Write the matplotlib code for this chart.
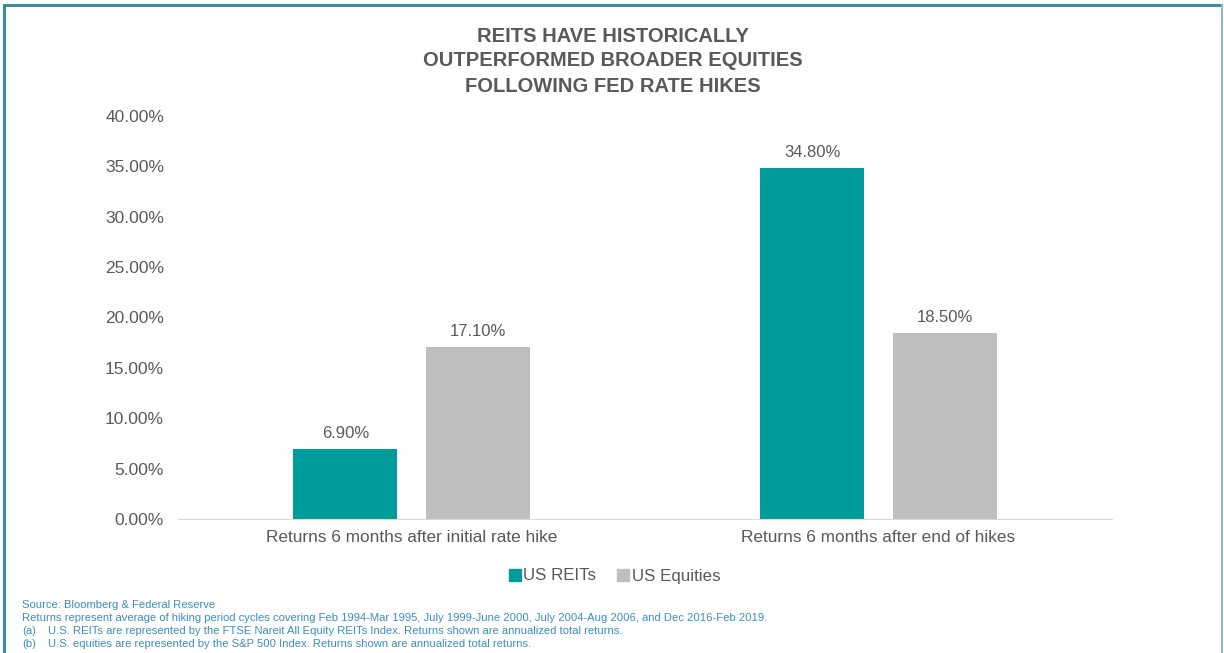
import matplotlib.pyplot as plt
from matplotlib.patches import Rectangle
from matplotlib.lines import Line2D

categories = ["Returns 6 months after initial rate hike", "Returns 6 months after end of hikes"]
reits = [6.90, 34.80]
equities = [17.10, 18.50]
series_names = ["US REITs", "US Equities"]
yticks = [0, 5, 10, 15, 20, 25, 30, 35, 40]

title = "REITS HAVE HISTORICALLY\nOUTPERFORMED BROADER EQUITIES\nFOLLOWING FED RATE HIKES"
notes = [
    "Source: Bloomberg & Federal Reserve",
    "Returns represent average of hiking period cycles covering Feb 1994-Mar 1995, July 1999-June 2000, July 2004-Aug 2006, and Dec 2016-Feb 2019.",
]
notes_ab = [
    ("(a)", "U.S. REITs are represented by the FTSE Nareit All Equity REITs Index. Returns shown are annualized total returns."),
    ("(b)", "U.S. equities are represented by the S&P 500 Index. Returns shown are annualized total returns."),
]

teal = "#009B9B"
grey = "#BFBFBF"
txt = "#595959"
blue = "#3C8DC4"
frame = "#3A8CA6"

plt.rcParams['font.family'] = ['Liberation Sans', 'DejaVu Sans']

fig = plt.figure(figsize=(12.24, 6.53), dpi=100)
W, H = 1224, 653
ax = fig.add_axes([178 / W, 1 - 519 / H, 934 / W, (519 - 116) / H])

x = [0, 1]
bw = 0.223
off = 0.1415
b1 = ax.bar([i - off for i in x], reits, bw, color=teal, label=series_names[0])
b2 = ax.bar([i + off for i in x], equities, bw, color=grey, label=series_names[1])
for bars, vals in [(b1, reits), (b2, equities)]:
    for r, v in zip(bars, vals):
        ax.text(r.get_x() + r.get_width() / 2, v + 0.8, f"{v:.2f}%", ha='center', va='bottom',
                fontsize=12, color=txt)

ax.set_xlim(-0.5, 1.5)
ax.set_ylim(0, 40)
ax.set_yticks(yticks)
ax.set_yticklabels([f"{t:.2f}%" for t in yticks], fontsize=12.5, color=txt)
ax.set_xticks(x)
ax.set_xticklabels(categories, fontsize=12.4, color=txt)
ax.tick_params(axis='both', length=0)
ax.tick_params(axis='y', pad=10)
ax.tick_params(axis='x', pad=8)
for s in ['top', 'right', 'left']:
    ax.spines[s].set_visible(False)
ax.spines['bottom'].set_color('#D9D9D9')

handles = [Line2D([], [], marker='s', linestyle='none', color=teal, markersize=8),
           Line2D([], [], marker='s', linestyle='none', color=grey, markersize=8)]
fig.legend(handles, series_names, loc='center', bbox_to_anchor=(614 / W, 1 - 576 / H), ncol=2,
           frameon=False, fontsize=12.2, labelcolor=txt, handletextpad=0.1, columnspacing=1.2,
           handlelength=0.8)

fig.text(613 / W, 1 - 61 / H, title, ha='center', va='center', fontsize=14.5, fontweight='bold',
         color=txt, linespacing=1.4)

ys = [605, 618, 631, 644]
for i, n in enumerate(notes):
    fig.text(22 / W, 1 - ys[i] / H, n, fontsize=8.1, color=blue, va='center')
for j, (a, n) in enumerate(notes_ab):
    fig.text(22 / W, 1 - ys[2 + j] / H, a, fontsize=8.1, color=blue, va='center')
    fig.text(48 / W, 1 - ys[2 + j] / H, n, fontsize=8.1, color=blue, va='center')

# frame
fig.add_artist(Rectangle((3 / W, 1 - 7 / H), 1220 / W, 3 / H, transform=fig.transFigure, color=frame, lw=0))
fig.add_artist(Rectangle((3 / W, 0), 3 / W, 1 - 4 / H, transform=fig.transFigure, color=frame, lw=0))
fig.add_artist(Rectangle((1221 / W, 0), 2 / W, 1 - 4 / H, transform=fig.transFigure, color='#8FB8C8', lw=0))

fig.savefig("out.png", dpi=100)
